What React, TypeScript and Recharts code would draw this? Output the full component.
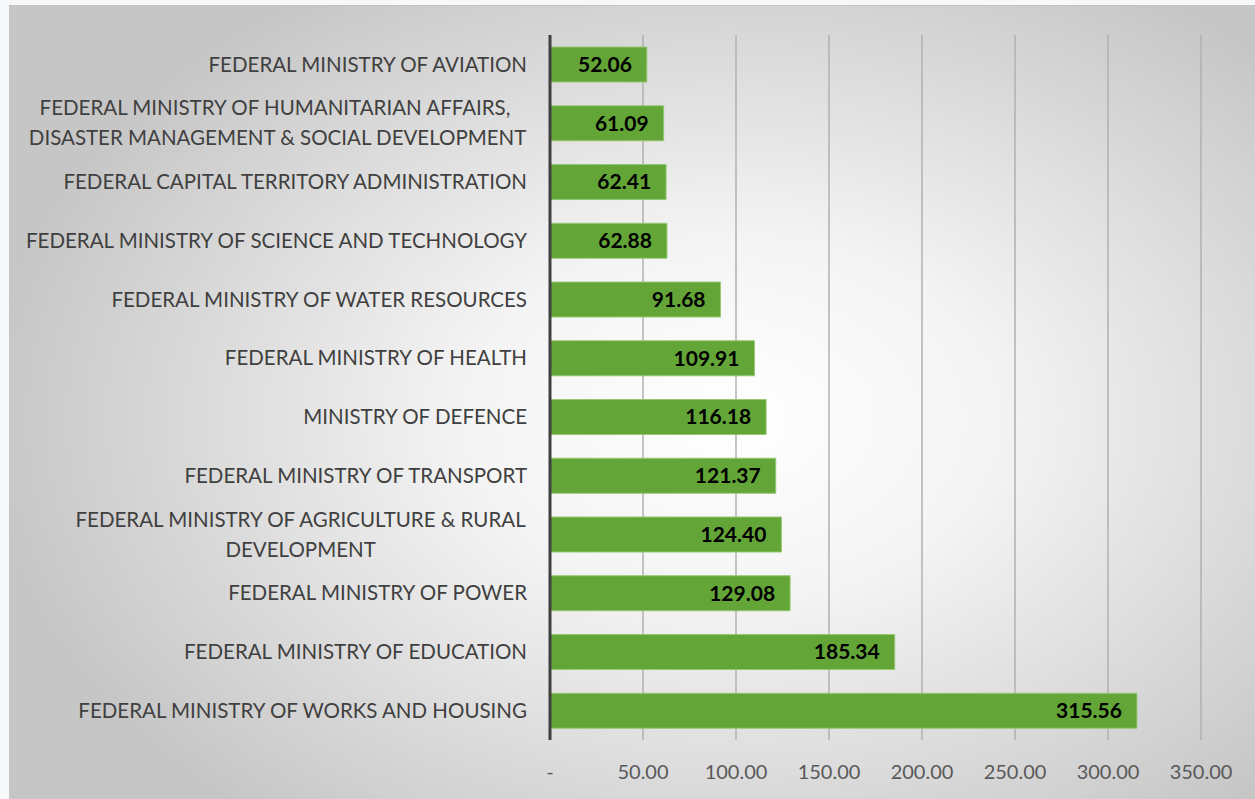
import React from "react";
import { BarChart, Bar, XAxis, YAxis, CartesianGrid, LabelList } from "recharts";

const ministries = [
  "FEDERAL MINISTRY OF AVIATION",
  "FEDERAL MINISTRY OF HUMANITARIAN AFFAIRS, \nDISASTER MANAGEMENT & SOCIAL DEVELOPMENT",
  "FEDERAL CAPITAL TERRITORY ADMINISTRATION",
  "FEDERAL MINISTRY OF SCIENCE AND TECHNOLOGY",
  "FEDERAL MINISTRY OF WATER RESOURCES",
  "FEDERAL MINISTRY OF HEALTH",
  "MINISTRY OF DEFENCE",
  "FEDERAL MINISTRY OF TRANSPORT",
  "FEDERAL MINISTRY OF AGRICULTURE & RURAL\nDEVELOPMENT",
  "FEDERAL MINISTRY OF POWER",
  "FEDERAL MINISTRY OF EDUCATION",
  "FEDERAL MINISTRY OF WORKS AND HOUSING",
];

const amounts = [52.06, 61.09, 62.41, 62.88, 91.68, 109.91, 116.18, 121.37, 124.4, 129.08, 185.34, 315.56];

const xTicks = [0, 50, 100, 150, 200, 250, 300, 350];

const data = ministries.map((name, i) => ({ name, value: amounts[i] }));

const FONT = "Lato, 'Open Sans', sans-serif";
const LABEL_SIZE = 20.5;

let ctx: CanvasRenderingContext2D | null = null;
function textWidth(s: string) {
  if (!ctx) ctx = document.createElement("canvas").getContext("2d");
  if (!ctx) return s.length * 11;
  ctx.font = `${LABEL_SIZE}px Lato`;
  return ctx.measureText(s).width;
}

function MinistryTick(props: any) {
  const { x, y, payload } = props;
  const lines: string[] = String(payload.value).split("\n");
  const block = Math.max(...lines.map(textWidth));
  const lh = 30;
  const start = y - ((lines.length - 1) * lh) / 2;
  return (
    <g>
      {lines.map((ln, i) => (
        <text
          key={i}
          x={lines.length > 1 ? x - block / 2 : x}
          y={start + i * lh}
          dy="0.35em"
          textAnchor={lines.length > 1 ? "middle" : "end"}
          fill="#404040"
          fontSize={LABEL_SIZE}
          fontFamily={FONT}
          style={{ whiteSpace: "pre" }}
        >
          {ln}
        </text>
      ))}
    </g>
  );
}

export default function App() {
  return (
    <div style={{ position: "absolute", left: 0, top: 0, width: 1255, height: 799, background: "#f7f8fa" }}>
      <div
        style={{
          position: "absolute",
          left: 9,
          top: 5,
          width: 1246,
          height: 794,
          borderTop: "1px solid #c2c2c2",
          background: "radial-gradient(ellipse 60% 65% at 58% 52%, #ffffff 0%, #f4f4f4 35%, #c6c6c6 100%)",
        }}
      />
      <div style={{ position: "absolute", left: 0, top: 0 }}>
        <BarChart
          width={1255}
          height={799}
          data={data}
          layout="vertical"
          margin={{ top: 35, right: 54, bottom: 0, left: 0 }}
        >
          <CartesianGrid horizontal={false} stroke="#b0b0b0" strokeWidth={1.5} />
          <XAxis
            type="number"
            domain={[0, 350]}
            ticks={xTicks}
            height={59}
            axisLine={false}
            tickLine={false}
            tickMargin={19}
            tickFormatter={(v: number) => (v === 0 ? "-" : v.toFixed(2))}
            tick={{ fill: "#595959", fontSize: 20, fontFamily: FONT }}
            interval={0}
          />
          <YAxis
            type="category"
            dataKey="name"
            width={550}
            axisLine={{ stroke: "#404040", strokeWidth: 3 }}
            tickLine={false}
            tickSize={0}
            tickMargin={23}
            tick={<MinistryTick />}
            interval={0}
          />
          <Bar dataKey="value" barSize={35} fill="#63a537" stroke="#96c872" strokeWidth={1} isAnimationActive={false}>
            <LabelList
              dataKey="value"
              position="insideRight"
              offset={15}
              formatter={(v: any) => Number(v).toFixed(2)}
              fill="#000000"
              fontSize={21}
              fontWeight="bold"
              fontFamily={FONT}
            />
          </Bar>
        </BarChart>
      </div>
    </div>
  );
}
